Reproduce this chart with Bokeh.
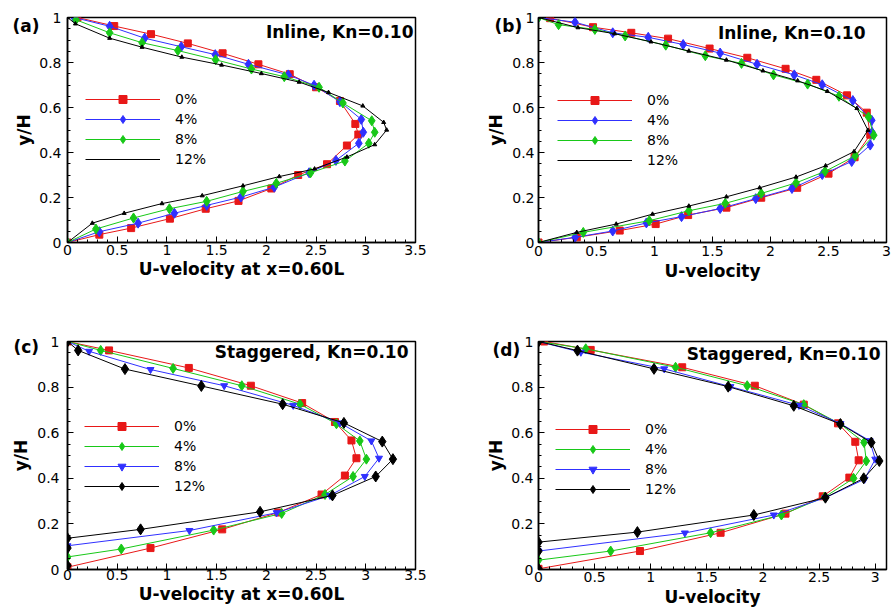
from bokeh.plotting import figure
from bokeh.models import (Range1d, Legend, LegendItem, Label, Title, SingleIntervalTicker,
                          CustomJSTickFormatter)
from bokeh.layouts import gridplot
from bokeh.embed import file_html
from bokeh.resources import INLINE

# ---------------- data ----------------
LABELS = ["0%", "4%", "8%", "12%"]

# Panel (a): Inline, U-velocity at x=0.60L
A_V0 = [0, 0.035, 0.064, 0.106, 0.150, 0.185, 0.240, 0.300, 0.348, 0.431, 0.480, 0.527, 0.629, 0.690, 0.748, 0.792, 0.841, 0.885, 0.926, 0.962, 1.0]
A_U0 = [0, 0.32, 0.64, 1.03, 1.39, 1.72, 2.05, 2.32, 2.61, 2.81, 2.925, 2.895, 2.74, 2.50, 2.235, 1.92, 1.56, 1.21, 0.84, 0.47, 0.10]
A_V4 = [0, 0.048, 0.086, 0.130, 0.165, 0.202, 0.246, 0.310, 0.365, 0.441, 0.490, 0.547, 0.626, 0.699, 0.745, 0.792, 0.835, 0.870, 0.908, 0.961, 1.0]
A_U4 = [0, 0.32, 0.71, 1.075, 1.40, 1.745, 2.08, 2.43, 2.70, 2.93, 2.975, 2.955, 2.74, 2.48, 2.22, 1.82, 1.486, 1.144, 0.776, 0.424, 0.066]
A_V8 = [0, 0.060, 0.109, 0.150, 0.183, 0.227, 0.263, 0.310, 0.362, 0.441, 0.490, 0.541, 0.620, 0.690, 0.737, 0.771, 0.812, 0.853, 0.888, 0.932, 0.990]
A_U8 = [0, 0.286, 0.664, 1.025, 1.40, 1.765, 2.10, 2.445, 2.79, 3.03, 3.09, 3.06, 2.77, 2.53, 2.18, 1.85, 1.49, 1.11, 0.75, 0.424, 0.085]
A_V12 = [0, 0.086, 0.130, 0.173, 0.208, 0.252, 0.293, 0.327, 0.380, 0.435, 0.500, 0.534, 0.607, 0.667, 0.713, 0.751, 0.789, 0.824, 0.868, 0.908, 0.972, 1.0]
A_U12 = [0, 0.25, 0.57, 0.95, 1.355, 1.765, 2.13, 2.485, 2.81, 3.09, 3.21, 3.18, 2.97, 2.625, 2.33, 1.95, 1.55, 1.15, 0.75, 0.424, 0.08, 0]

# Panel (b): Inline, U-velocity
B_V0 = [0, 0.023, 0.053, 0.082, 0.122, 0.155, 0.199, 0.243, 0.306, 0.379, 0.479, 0.577, 0.654, 0.723, 0.772, 0.821, 0.862, 0.906, 0.932, 0.957, 0.997]
B_U0 = [0, 0.33, 0.70, 1.01, 1.29, 1.62, 1.92, 2.23, 2.50, 2.725, 2.86, 2.83, 2.66, 2.395, 2.13, 1.80, 1.475, 1.117, 0.80, 0.47, 0.10]
B_V4 = [0, 0.023, 0.051, 0.087, 0.115, 0.151, 0.195, 0.240, 0.302, 0.360, 0.433, 0.490, 0.543, 0.631, 0.701, 0.745, 0.792, 0.842, 0.880, 0.912, 0.932, 0.979, 1.0]
B_U4 = [0, 0.315, 0.64, 0.93, 1.233, 1.566, 1.873, 2.185, 2.446, 2.70, 2.86, 2.875, 2.873, 2.71, 2.446, 2.205, 1.884, 1.566, 1.247, 0.946, 0.64, 0.315, 0]
B_V8 = [0, 0.045, 0.097, 0.141, 0.174, 0.218, 0.265, 0.316, 0.385, 0.477, 0.558, 0.650, 0.704, 0.745, 0.796, 0.830, 0.877, 0.918, 0.947, 0.968, 1.0]
B_U8 = [0, 0.386, 0.955, 1.296, 1.61, 1.92, 2.22, 2.47, 2.73, 2.89, 2.845, 2.59, 2.32, 2.026, 1.75, 1.438, 1.097, 0.747, 0.486, 0.173, 0]
B_V12 = [0, 0.045, 0.082, 0.126, 0.162, 0.203, 0.243, 0.291, 0.341, 0.404, 0.499, 0.596, 0.672, 0.719, 0.763, 0.811, 0.851, 0.892, 0.928, 0.955, 1.0]
B_U12 = [0, 0.33, 0.67, 0.983, 1.296, 1.62, 1.906, 2.22, 2.475, 2.72, 2.84, 2.745, 2.49, 2.234, 1.935, 1.62, 1.296, 0.97, 0.656, 0.34, 0]

# Panel (c): Staggered, U-velocity at x=0.60L
C_V0 = [0.010, 0.094, 0.176, 0.250, 0.329, 0.412, 0.488, 0.566, 0.647, 0.730, 0.806, 0.884, 0.961, 1.0]
C_U0 = [0, 0.835, 1.556, 2.12, 2.555, 2.79, 2.906, 2.856, 2.69, 2.36, 1.844, 1.22, 0.418, 0]
C_V4 = [0.055, 0.090, 0.173, 0.246, 0.329, 0.408, 0.484, 0.564, 0.639, 0.725, 0.806, 0.882, 0.961, 1.0]
C_U4 = [0, 0.541, 1.47, 2.154, 2.59, 2.872, 3.006, 2.94, 2.705, 2.338, 1.753, 1.062, 0.334, 0]
C_V8 = [0.104, 0.171, 0.249, 0.325, 0.408, 0.488, 0.564, 0.643, 0.720, 0.806, 0.877, 0.957, 1.0]
C_U8 = [0, 1.226, 2.104, 2.64, 2.99, 3.133, 3.056, 2.74, 2.27, 1.576, 0.835, 0.217, 0]
C_V12 = [0.017, 0.094, 0.137, 0.176, 0.253, 0.325, 0.408, 0.484, 0.561, 0.643, 0.725, 0.805, 0.879, 0.961, 1.0]
C_U12 = [0, 0, 0, 0.735, 1.937, 2.665, 3.10, 3.273, 3.166, 2.78, 2.164, 1.346, 0.578, 0.107, 0]

# Panel (d): Staggered, U-velocity
D_V0 = [0.003, 0.081, 0.161, 0.245, 0.321, 0.403, 0.479, 0.560, 0.641, 0.723, 0.806, 0.887, 0.963, 1.0]
D_U0 = [0, 0.904, 1.622, 2.20, 2.532, 2.769, 2.852, 2.822, 2.668, 2.363, 1.927, 1.28, 0.465, 0.05]
D_V4 = [0.041, 0.081, 0.161, 0.239, 0.318, 0.400, 0.476, 0.557, 0.638, 0.723, 0.806, 0.887, 0.968, 1.0]
D_U4 = [0, 0.643, 1.533, 2.164, 2.55, 2.807, 2.92, 2.90, 2.689, 2.363, 1.859, 1.221, 0.421, 0]
D_V8 = [0.081, 0.160, 0.239, 0.315, 0.396, 0.484, 0.565, 0.640, 0.720, 0.802, 0.880, 0.953, 1.0]
D_U8 = [0, 1.304, 2.096, 2.556, 2.905, 3.0, 2.95, 2.69, 2.32, 1.71, 1.12, 0.377, 0]
D_V12 = [0.003, 0.081, 0.120, 0.164, 0.239, 0.315, 0.400, 0.476, 0.557, 0.638, 0.718, 0.802, 0.880, 0.960, 1.0]
D_U12 = [0, 0, 0, 0.881, 1.918, 2.556, 2.897, 3.036, 2.965, 2.689, 2.274, 1.69, 1.029, 0.347, 0]

# ---------------- styling ----------------
RED, BLUE, GREEN, BLACK = "#e81818", "#3030ff", "#18c818", "#000000"
FONT = "DejaVu Sans"
FMT = CustomJSTickFormatter(code="return String(Math.round(tick*100)/100);")

STYLE_INLINE = [
    dict(color=RED, marker="square", size=7, leg_marker=True),
    dict(color=BLUE, marker="diamond", size=10, leg_marker=True),
    dict(color=GREEN, marker="diamond", size=10, leg_marker=True),
    dict(color=BLACK, marker="triangle", size=4, leg_marker=False),
]
STYLE_STAG = [
    dict(color=RED, marker="square", size=7, leg_marker=True),
    dict(color=GREEN, marker="diamond", size=10, leg_marker=True),
    dict(color=BLUE, marker="inverted_triangle", size=7, leg_marker=True),
    dict(color=BLACK, marker="diamond", size=11, leg_marker=True),
]


def make_panel(series, styles, width, height, borders, xmax, xlabel, tag, title,
               leg_loc, tag_pos, title_pos, ystand, xstand):
    L, R, T, B = borders
    p = figure(width=width, height=height, x_range=Range1d(0, xmax), y_range=Range1d(0, 1),
               output_backend="svg", toolbar_location=None,
               min_border_left=L, min_border_right=R, min_border_top=T, min_border_bottom=B,
               x_axis_label=xlabel, y_axis_label="y/H")
    p.grid.visible = False
    p.outline_line_color = "black"
    p.outline_line_width = 1.5
    p.background_fill_color = "white"
    p.border_fill_color = "white"

    p.xaxis.ticker = SingleIntervalTicker(interval=0.5, num_minor_ticks=5)
    p.yaxis.ticker = SingleIntervalTicker(interval=0.2, num_minor_ticks=4)
    for ax in (p.xaxis[0], p.yaxis[0]):
        ax.formatter = FMT
        ax.axis_line_width = 1.5
        ax.major_tick_in = 6
        ax.major_tick_out = 0
        ax.minor_tick_in = 3
        ax.minor_tick_out = 0
        ax.major_tick_line_width = 1
        ax.minor_tick_line_width = 1
        ax.major_label_text_font = FONT
        ax.major_label_text_font_size = "14px"
        ax.major_label_text_color = "black"
        ax.axis_label_text_font = FONT
        ax.axis_label_text_font_style = "bold"
        ax.axis_label_text_font_size = "17px"
        ax.axis_label_text_color = "black"
    p.yaxis.major_label_standoff = ystand[0]
    p.yaxis.axis_label_standoff = ystand[1]
    p.xaxis.major_label_standoff = xstand[0]
    p.xaxis.axis_label_standoff = xstand[1]

    items = []
    for (u, v), st, lab in zip(series, styles, LABELS):
        ln = p.line(u, v, line_color=st["color"], line_width=1)
        sc = p.scatter(u, v, marker=st["marker"], size=st["size"],
                       fill_color=st["color"], line_color=st["color"])
        items.append(LegendItem(label=lab, renderers=[ln, sc] if st["leg_marker"] else [ln]))

    leg = Legend(items=items, location=leg_loc, glyph_width=75, glyph_height=20,
                 label_height=20, spacing=0, padding=0, margin=0, label_standoff=15,
                 border_line_alpha=0, background_fill_alpha=0,
                 label_text_font=FONT, label_text_font_size="14px", label_text_color="black")
    p.add_layout(leg)

    # panel tag, left of the frame (a Title is not clipped to the frame)
    p.add_layout(Title(text=tag, align="left", offset=tag_pos[0], standoff=tag_pos[1],
                       vertical_align="bottom", text_font=FONT, text_font_style="bold",
                       text_font_size="17px", text_color="black"), "above")
    p.add_layout(Label(x=title_pos[0], y=title_pos[1], x_units="screen", y_units="screen",
                       text=title, text_font=FONT, text_font_style="bold", text_color="black",
                       text_font_size="17px", text_baseline="middle", text_align="right"))
    return p


pa = make_panel([(A_U0, A_V0), (A_U4, A_V4), (A_U8, A_V8), (A_U12, A_V12)], STYLE_INLINE,
                445, 307, (60, 30, 13, 65), 3.5, "U-velocity at x=0.60L", "(a)", "Inline, Kn=0.10",
                (18, 73), (-55, -37), (346, 211), (6, 2), (2, 1))
pb = make_panel([(B_U0, B_V0), (B_U4, B_V4), (B_U8, B_V8), (B_U12, B_V12)], STYLE_INLINE,
                446, 307, (92, 2, 17, 62), 3.0, "U-velocity", "(b)", "Inline, Kn=0.10",
                (19, 72), (-44, -36), (327, 210), (4, 3), (3, 2))
pc = make_panel([(C_U0, C_V0), (C_U4, C_V4), (C_U8, C_V8), (C_U12, C_V12)], STYLE_STAG,
                445, 307, (67, 29, 33, 44), 3.5, "U-velocity at x=0.60L", "(c)", "Staggered, Kn=0.10",
                (17, 73), (-54, -31), (341, 218), (8, 3), (0, 1))
pd_ = make_panel([(D_U0, D_V0), (D_U4, D_V4), (D_U8, D_V8), (D_U12, D_V12)], STYLE_STAG,
                 446, 307, (93, 5, 34, 45), 3.1, "U-velocity", "(d)", "Staggered, Kn=0.10",
                 (17, 70), (-46, -37), (342, 216), (5, 2), (2, 2))

grid = gridplot([[pa, pb], [pc, pd_]], toolbar_location=None)
open("out.html", "w").write(file_html(grid, INLINE))
